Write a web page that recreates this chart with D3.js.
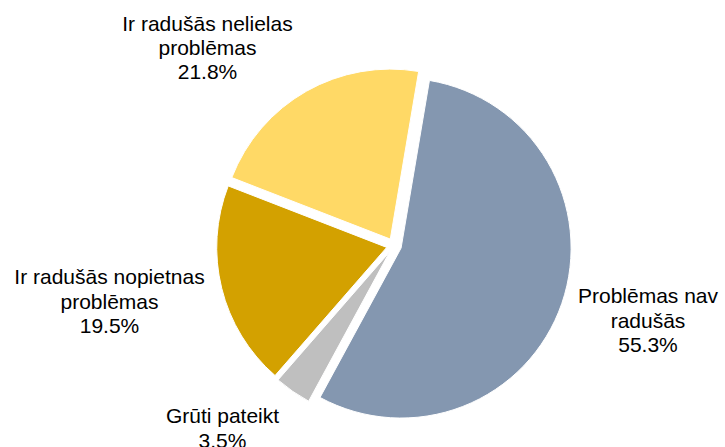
<!DOCTYPE html>
<html>
<head>
<meta charset="utf-8">
<script src="https://cdn.jsdelivr.net/npm/d3@7"></script>
<style>
  body { margin: 0; background: #fff; }
  text { font-family: "Liberation Sans", Arial, sans-serif; font-size: 21px; fill: #000; }
</style>
</head>
<body>
<svg width="725" height="447"></svg>
<script>
'use strict';
// ........ data ........
const categories = ['Problēmas nav radušās', 'Grūti pateikt', 'Ir radušās nopietnas problēmas', 'Ir radušās nelielas problēmas'];
const values = [55.3, 3.5, 19.5, 21.8];
const labelLines = [
  ['Problēmas nav', 'radušās'],
  ['Grūti pateikt'],
  ['Ir radušās nopietnas', 'problēmas'],
  ['Ir radušās nelielas', 'problēmas']
];
const colors = ['#8497B0', '#BFBFBF', '#D3A100', '#FFD966'];

// ........ layout ........
const svg = d3.select('svg');
const center = { x: 394, y: 245.6 };
const radius = 170;
const explode = 7.5;
const startDeg = 9.6;
const lineGap = 24.3;
// label anchor: centre x and first baseline
const labelPos = [
  { x: 648, y: 303.3 },
  { x: 222.5, y: 423.3 },
  { x: 109.5, y: 284.3 },
  { x: 207.5, y: 30.5 }
];

const pie = d3.pie()
  .sort(null)
  .value(d => d)
  .startAngle(startDeg * Math.PI / 180)
  .endAngle((startDeg + 360) * Math.PI / 180);

const arc = d3.arc().innerRadius(0).outerRadius(radius);
const arcs = pie(values);

const g = svg.append('g')
  .attr('transform', `translate(${center.x} ${center.y})`);

g.selectAll('path')
  .data(arcs)
  .join('path')
  .attr('d', arc)
  .attr('fill', (d, i) => colors[i])
  .attr('stroke', '#fff')
  .attr('stroke-width', 1)
  .attr('transform', d => {
    const mid = (d.startAngle + d.endAngle) / 2;
    return `translate(${explode * Math.sin(mid)} ${-explode * Math.cos(mid)})`;
  });

// ........ labels ........
const fmt = d3.format('.1f');
const labels = svg.selectAll('text.lbl')
  .data(arcs)
  .join('text')
  .attr('class', 'lbl')
  .attr('text-anchor', 'middle')
  .attr('x', (d, i) => labelPos[i].x)
  .attr('y', (d, i) => labelPos[i].y);

labels.each(function(d, i) {
  const lines = labelLines[i].concat([fmt(d.data) + '%']);
  d3.select(this).selectAll('tspan')
    .data(lines)
    .join('tspan')
    .attr('x', labelPos[i].x)
    .attr('dy', (t, j) => j === 0 ? 0 : lineGap)
    .text(t => t);
});
</script>
</body>
</html>
